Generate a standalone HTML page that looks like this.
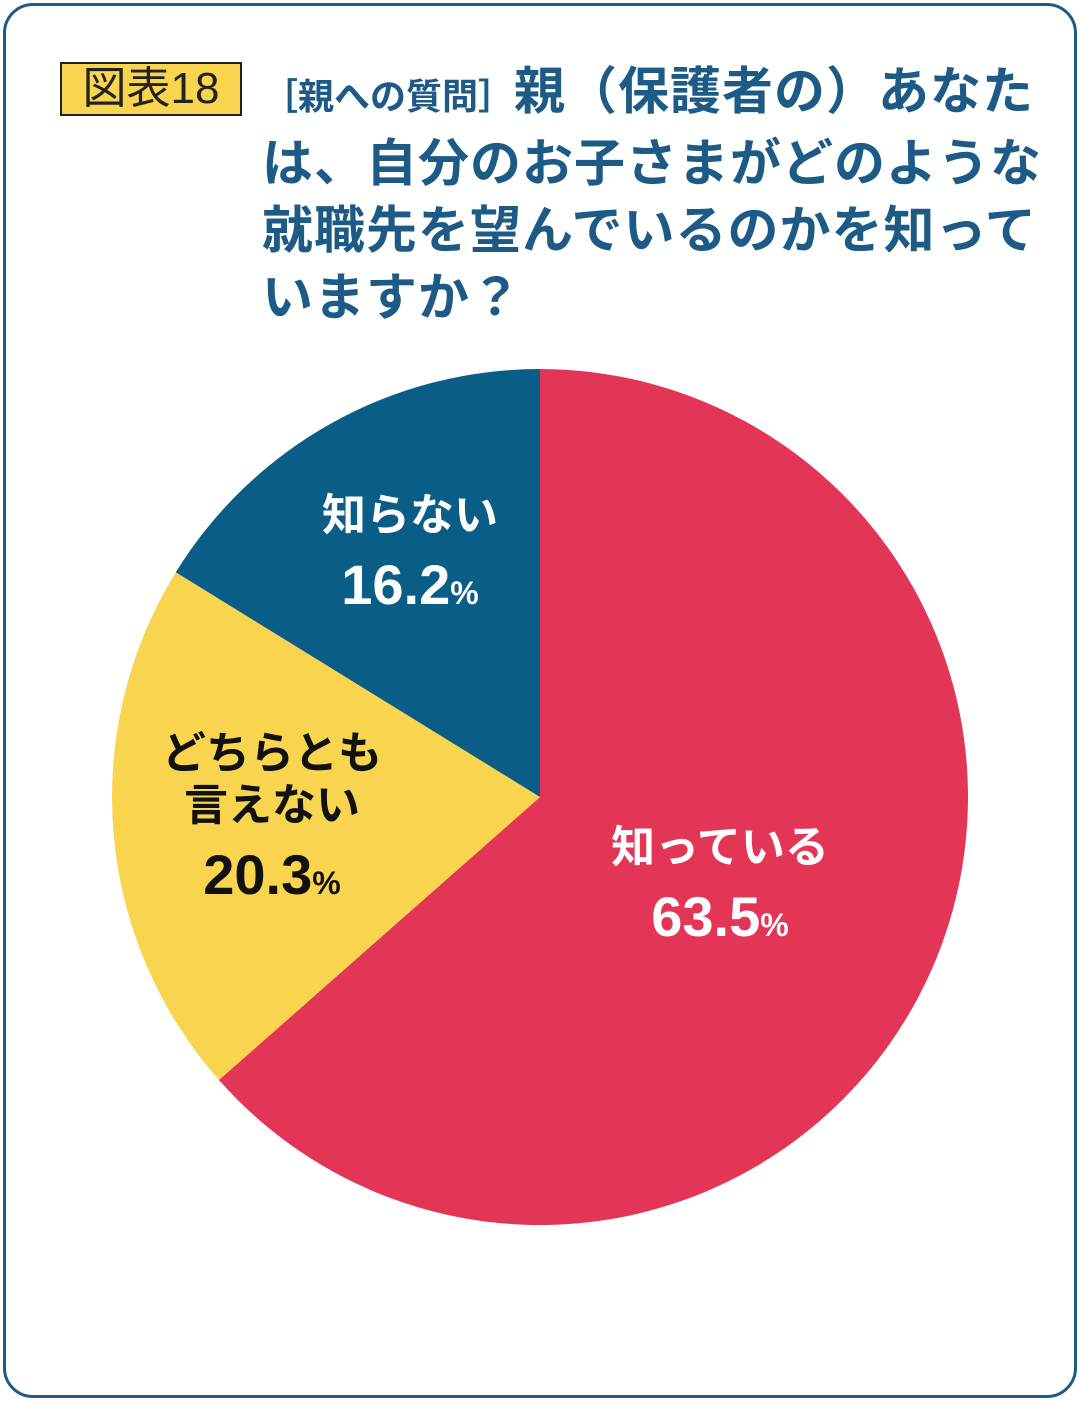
<!DOCTYPE html>
<html><head><meta charset="utf-8">
<style>
html,body{margin:0;padding:0;background:#fff;}
body{width:1080px;height:1401px;position:relative;overflow:hidden;font-family:"Liberation Sans","Noto Sans CJK JP",sans-serif;}
.frame{position:absolute;left:3px;top:3px;width:1068px;height:1389px;border:3px solid #1f5a82;border-radius:30px;}
.badge{position:absolute;left:60px;top:62px;width:178px;height:50px;background:#f9d44f;border:2px solid #222;font-size:44px;line-height:50px;text-align:center;color:#222;}
.title{position:absolute;left:262px;top:58px;width:790px;color:#1d5a85;font-weight:bold;font-size:51px;line-height:67px;letter-spacing:1px;}
.title .q{font-size:36px;font-weight:bold;letter-spacing:0;}
svg{position:absolute;left:0;top:0;}
</style></head><body>
<div class="frame"></div>
<div class="badge">図表18</div>
<div class="title"><span class="q">［親への質問］</span>親（保護者の）あなたは、自分のお子さまがどのような就職先を望んでいるのかを知っていますか？</div>
<svg id="chart" width="1080" height="1401"></svg>
<script>
const categories=["知っている","どちらとも言えない","知らない"];
const values=[63.5,20.3,16.2];
const valueLabels=["63.5","20.3","16.2"];
const colors=["#e33556","#f9d44f","#0a5d87"];
const textColors=["#fff","#111","#fff"];
const labelLines=[["知っている"],["どちらとも","言えない"],["知らない"]];
const labelPos=[[720,862],[272,768],[410,530]];
const svg=document.getElementById('chart');
const NS="http://www.w3.org/2000/svg";
const cx=540,cy=797,r=428;
const total=values.reduce((a,b)=>a+b,0);
function pt(a){return [cx+r*Math.sin(a),cy-r*Math.cos(a)];}
let acc=0;
values.forEach((v,i)=>{
  const a0=acc/total*2*Math.PI; acc+=v; const a1=acc/total*2*Math.PI;
  const p0=pt(a0),p1=pt(a1);
  const p=document.createElementNS(NS,'path');
  p.setAttribute('d',`M${cx},${cy}L${p0[0]},${p0[1]}A${r},${r} 0 ${a1-a0>Math.PI?1:0} 1 ${p1[0]},${p1[1]}Z`);
  p.setAttribute('fill',colors[i]);
  
  
  svg.appendChild(p);
});
values.forEach((v,i)=>{
  const [x,y]=labelPos[i];
  labelLines[i].forEach((ln,j)=>{
    const t=document.createElementNS(NS,'text');
    t.setAttribute('x',x);t.setAttribute('y',y+j*52);
    t.setAttribute('text-anchor','middle');t.setAttribute('font-size','44');t.setAttribute('font-weight','bold');
    t.setAttribute('fill',textColors[i]);
    t.setAttribute('font-family','"Liberation Sans","Noto Sans CJK JP",sans-serif');
    t.textContent=ln;
    
    
    svg.appendChild(t);
  });
  const t=document.createElementNS(NS,'text');
  t.setAttribute('x',x);t.setAttribute('y',y+labelLines[i].length*52+22);
  t.setAttribute('text-anchor','middle');t.setAttribute('font-weight','bold');
  t.setAttribute('fill',textColors[i]);
  t.setAttribute('font-family','"Liberation Sans",sans-serif');
  t.innerHTML='<tspan font-size="56">'+valueLabels[i]+'</tspan><tspan font-size="32">%</tspan>';
  
  
  svg.appendChild(t);
});
</script>
</body></html>
